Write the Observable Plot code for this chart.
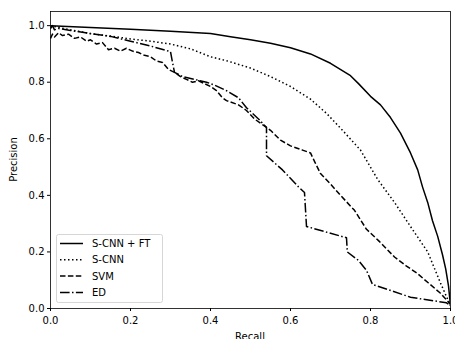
<!DOCTYPE html>
<html>
<head>
<meta charset="utf-8">
<script src="https://cdn.jsdelivr.net/npm/d3@7"></script>
<script src="https://cdn.jsdelivr.net/npm/@observablehq/plot@0.6"></script>
<style>
  html, body { margin: 0; padding: 0; background: #fff; }
  #chart { width: 455px; height: 339px; overflow: hidden; }
</style>
</head>
<body>
<div id="chart"></div>
<script>
// Series names
const seriesNames = ["S-CNN + FT", "S-CNN", "SVM", "ED"];

// S-CNN + FT (solid)
const ftRecall =    [0, 0.1, 0.2, 0.3, 0.4, 0.45, 0.5, 0.55, 0.6, 0.65, 0.7, 0.75, 0.77, 0.8, 0.825, 0.85, 0.875, 0.9, 0.918, 0.93, 0.943, 0.955, 0.968, 0.98, 0.988, 0.995, 1.0];
const ftPrecision = [1.0, 0.993, 0.987, 0.98, 0.972, 0.961, 0.95, 0.938, 0.922, 0.9, 0.867, 0.823, 0.795, 0.75, 0.72, 0.675, 0.62, 0.55, 0.49, 0.43, 0.375, 0.31, 0.255, 0.19, 0.14, 0.08, 0.01];

// S-CNN (dotted)
const cnnRecall =    [0, 0.05, 0.1, 0.15, 0.2, 0.25, 0.3, 0.35, 0.4, 0.44, 0.5, 0.55, 0.6, 0.65, 0.69, 0.73, 0.775, 0.818, 0.86, 0.9, 0.943, 0.975, 1.0];
const cnnPrecision = [1.0, 0.985, 0.972, 0.963, 0.953, 0.945, 0.935, 0.918, 0.89, 0.876, 0.85, 0.82, 0.785, 0.74, 0.69, 0.63, 0.56, 0.456, 0.375, 0.29, 0.2, 0.09, 0.01];

// SVM (dashed)
const svmRecall =    [0, 0.005, 0.01, 0.02, 0.03, 0.045, 0.06, 0.075, 0.09, 0.1, 0.115, 0.13, 0.145, 0.16, 0.175, 0.19, 0.205, 0.22, 0.235, 0.25, 0.265, 0.28, 0.295, 0.31, 0.325, 0.34, 0.355, 0.37, 0.385, 0.4, 0.415, 0.43, 0.44, 0.47, 0.49, 0.51, 0.53, 0.55, 0.575, 0.6, 0.63, 0.65, 0.66, 0.675, 0.7, 0.725, 0.76, 0.79, 0.82, 0.86, 0.89, 0.917, 0.945, 0.975, 1.0];
const svmPrecision = [0.955, 0.97, 0.96, 0.975, 0.965, 0.97, 0.955, 0.96, 0.945, 0.95, 0.935, 0.94, 0.915, 0.92, 0.91, 0.92, 0.91, 0.905, 0.895, 0.89, 0.875, 0.87, 0.845, 0.835, 0.82, 0.81, 0.8, 0.805, 0.795, 0.785, 0.77, 0.745, 0.735, 0.72, 0.7, 0.67, 0.65, 0.63, 0.595, 0.575, 0.56, 0.55, 0.52, 0.477, 0.44, 0.4, 0.347, 0.28, 0.24, 0.182, 0.15, 0.124, 0.09, 0.054, 0.015];

// ED (dash-dot)
const edRecall =    [0, 0.005, 0.01, 0.02, 0.05, 0.1, 0.15, 0.2, 0.25, 0.3, 0.305, 0.31, 0.33, 0.36, 0.39, 0.41, 0.44, 0.47, 0.49, 0.52, 0.54, 0.54, 0.58, 0.62, 0.635, 0.64, 0.74, 0.742, 0.77, 0.79, 0.805, 0.9, 0.99, 1.0];
const edPrecision = [0.99, 1.0, 0.985, 0.99, 0.983, 0.972, 0.962, 0.945, 0.928, 0.908, 0.87, 0.835, 0.82, 0.81, 0.8, 0.79, 0.77, 0.745, 0.71, 0.67, 0.64, 0.54, 0.49, 0.43, 0.41, 0.29, 0.25, 0.2, 0.17, 0.135, 0.085, 0.04, 0.02, 0.01];

const xTicks = [0, 0.2, 0.4, 0.6, 0.8, 1.0];
const yTicks = [0, 0.2, 0.4, 0.6, 0.8, 1.0];
const xLabel = "Recall";
const yLabel = "Precision";

const dashes = ["none", "1.5,2.5", "5.5,2.4", "9.6,2.4,1.5,2.4"];

function toRows(name, xs, ys) {
  return xs.map((x, i) => ({series: name, recall: x, precision: ys[i]}));
}
const seriesData = [
  toRows(seriesNames[0], ftRecall, ftPrecision),
  toRows(seriesNames[1], cnnRecall, cnnPrecision),
  toRows(seriesNames[2], svmRecall, svmPrecision),
  toRows(seriesNames[3], edRecall, edPrecision)
];

const W = 455, H = 339;
const mL = 50, mR = 5, mT = 11, mB = 31;

const plot = Plot.plot({
  width: W,
  height: H,
  marginLeft: mL,
  marginRight: mR,
  marginTop: mT,
  marginBottom: mB,
  style: {fontFamily: "DejaVu Sans", fontSize: "10px", color: "#000", background: "#fff"},
  x: {domain: [0, 1]},
  y: {domain: [0, 1.05]},
  marks: [
    ...seriesData.map((d, i) => Plot.line(d, {
      x: "recall", y: "precision",
      stroke: "#000", strokeWidth: 1.5,
      strokeDasharray: dashes[i],
      strokeLinecap: "butt", strokeLinejoin: "round",
      clip: true
    })),
    Plot.frame({stroke: "#000", strokeWidth: 0.8}),
    Plot.axisX({ticks: xTicks, tickFormat: d3.format(".1f"), tickSize: 3, tickPadding: 5, label: null, fontSize: 10}),
    Plot.axisY({ticks: yTicks, tickFormat: d3.format(".1f"), tickSize: 3, tickPadding: 3, label: null, fontSize: 10})
  ]
});

document.getElementById("chart").appendChild(plot);

const svg = d3.select(plot);
svg.style("overflow", "hidden");

// axis titles
svg.append("text")
  .attr("x", (mL + (W - mR)) / 2).attr("y", 340)
  .attr("text-anchor", "middle")
  .attr("font-family", "DejaVu Sans").attr("font-size", 10).attr("fill", "#000")
  .text(xLabel);
svg.append("text")
  .attr("transform", `translate(17,${(mT + (H - mB)) / 2}) rotate(-90)`)
  .attr("text-anchor", "middle")
  .attr("font-family", "DejaVu Sans").attr("font-size", 10).attr("fill", "#000")
  .text(yLabel);

// legend
const lg = svg.append("g").attr("transform", "translate(56,234)");
lg.append("rect")
  .attr("x", 0.5).attr("y", 0.5).attr("width", 106).attr("height", 68)
  .attr("rx", 2).attr("ry", 2)
  .attr("fill", "#fff").attr("fill-opacity", 0.8)
  .attr("stroke", "#ccc").attr("stroke-width", 0.8);
seriesNames.forEach((name, i) => {
  const yy = 9.5 + i * 16.3;
  lg.append("line")
    .attr("x1", 4).attr("x2", 27).attr("y1", yy).attr("y2", yy)
    .attr("stroke", "#000").attr("stroke-width", 1.5)
    .attr("stroke-dasharray", dashes[i]);
  lg.append("text")
    .attr("x", 36).attr("y", yy + 3.6)
    .attr("text-anchor", "start")
    .attr("font-family", "DejaVu Sans").attr("font-size", 10).attr("fill", "#000")
    .text(name);
});
</script>
</body>
</html>
